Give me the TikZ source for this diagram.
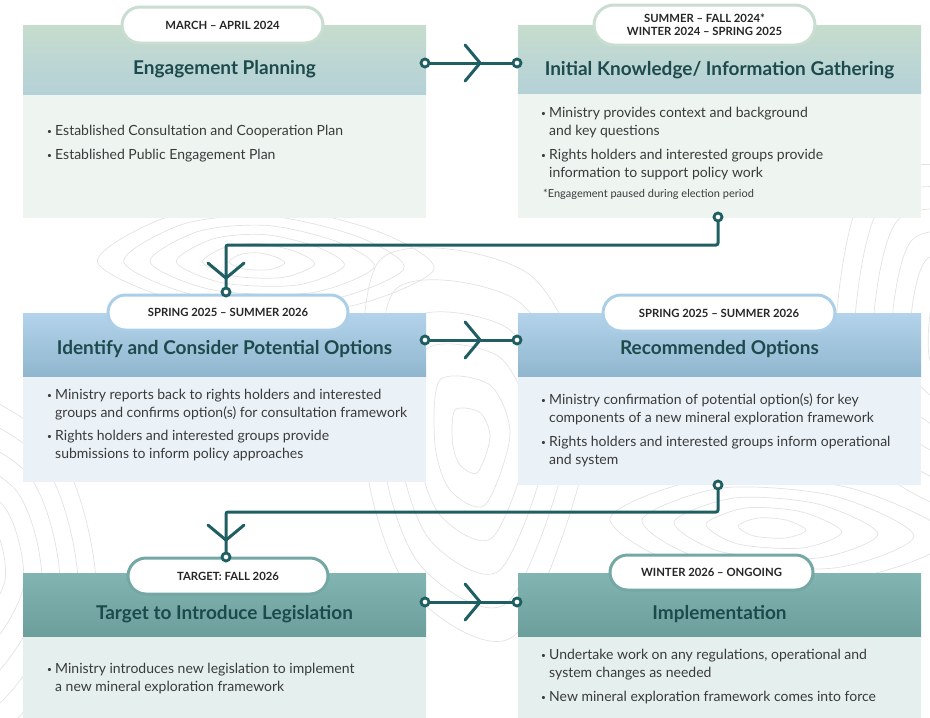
\documentclass[tikz,border=0pt]{standalone}
\usepackage{fontspec}
\setmainfont{Lato}
\usetikzlibrary{positioning,arrows.meta,decorations.markings,shapes.misc}

\definecolor{flowteal}{HTML}{1F5F63}
\definecolor{titleteal}{HTML}{1D4A4C}
\definecolor{bodygray}{HTML}{3A3A3A}
\definecolor{contourgray}{HTML}{E2E2E2}
% row colours
\definecolor{sagetop}{HTML}{C6DCCD}
\definecolor{sagebot}{HTML}{B4D1D8}
\definecolor{sagebody}{HTML}{EEF5F1}
\definecolor{sagerim}{HTML}{C9DDD1}
\definecolor{skytop}{HTML}{B3D3EB}
\definecolor{skybot}{HTML}{8FB6CD}
\definecolor{skybody}{HTML}{EAF2F8}
\definecolor{skyrim}{HTML}{ACCFE8}
\definecolor{tealtop}{HTML}{82B5B1}
\definecolor{tealbot}{HTML}{6C9F9C}
\definecolor{tealbody}{HTML}{E4EFEE}
\definecolor{tealrim}{HTML}{74A8A4}

\newcommand\bul{\makebox[8pt][l]{\raisebox{0.8pt}{\scalebox{0.6}{\textbullet}}}}
\newcommand\ind{\hspace*{8pt}}

\tikzset{
  header/.style={rectangle, inner sep=0pt, minimum width=403pt},
  bodybox/.style={rectangle, inner sep=0pt, minimum width=403pt},
  pill/.style={rounded rectangle, draw=#1, line width=3pt, fill=white,
    inner sep=0pt, align=center, text=black!85,
    font=\fontsize{11.3}{13.5}\selectfont\bfseries},
  title/.style={text=titleteal, inner sep=0pt,
    font=\fontsize{19}{22}\selectfont\bfseries},
  bodytext/.style={anchor=north west, inner sep=0pt, align=left, text=bodygray,
    font=\fontsize{14}{18}\selectfont},
  port/.style={circle, draw=flowteal, line width=2.8pt, fill=white,
    minimum size=8pt, inner sep=0pt},
  flow/.style={draw=flowteal, line width=3pt, line cap=round, rounded corners=2pt},
  chev/.style={postaction={decorate, decoration={markings,
    mark=at position #1 with {\arrow{Straight Barb[length=15pt,width=36pt,line width=3pt,round]}}}}},
  contour/.style={draw=contourgray, line width=0.7pt}
}

\begin{document}
\begin{tikzpicture}[x=1pt,y=-1pt]
  \useasboundingbox (0,0) rectangle (930,718);

  % topographic lines in the background
  \begin{scope}
    \clip (0,0) rectangle (930,718);
    \foreach \s in {0.35,0.7,...,2.2} {
      \draw[contour, shift={(255,262)}, scale=\s] plot[smooth cycle] coordinates
        {(-75,0) (-40,-22) (10,-26) (60,-14) (85,4) (40,22) (-30,20)};
    }
    \foreach \s in {0.5,1,...,3} {
      \draw[contour, shift={(470,440)}, scale=\s] plot[smooth cycle] coordinates
        {(-30,-60) (20,-55) (40,-5) (15,65) (-20,50) (-35,5)};
    }
    \foreach \s in {0.4,0.8,...,2.4} {
      \draw[contour, shift={(770,528)}, scale=\s] plot[smooth cycle] coordinates
        {(-80,-5) (-30,-25) (40,-20) (90,5) (40,25) (-40,20)};
    }
    \foreach \s in {1,1.4,...,3} {
      \draw[contour, shift={(-40,560)}, scale=\s] plot[smooth cycle] coordinates
        {(-30,-60) (30,-40) (45,20) (10,70) (-40,40)};
      \draw[contour, shift={(975,330)}, scale=\s] plot[smooth cycle] coordinates
        {(-35,-50) (25,-45) (40,10) (0,60) (-45,30)};
    }
  \end{scope}

  % row 1
  \node[header, minimum height=70pt, top color=sagetop, bottom color=sagebot] (hdr1) at (224.5,60) {};
  \node[bodybox, minimum height=123pt, fill=sagebody] (body1) at (224.5,156.5) {};
  \node[header, minimum height=69pt, top color=sagetop, bottom color=sagebot] (hdr2) at (719.5,59.5) {};
  \node[bodybox, minimum height=124pt, fill=sagebody] (body2) at (719.5,156) {};

  % row 2
  \node[header, minimum height=64pt, top color=skytop, bottom color=skybot] (hdr3) at (224.5,345) {};
  \node[bodybox, minimum height=105pt, fill=skybody] (body3) at (224.5,429.5) {};
  \node[header, minimum height=64pt, top color=skytop, bottom color=skybot] (hdr4) at (719.5,345) {};
  \node[bodybox, minimum height=108pt, fill=skybody] (body4) at (719.5,431) {};

  % row 3
  \node[header, minimum height=64pt, top color=tealtop, bottom color=tealbot] (hdr5) at (224.5,605) {};
  \node[bodybox, minimum height=81pt, fill=tealbody] (body5) at (224.5,677.5) {};
  \node[header, minimum height=64pt, top color=tealtop, bottom color=tealbot] (hdr6) at (719.5,605) {};
  \node[bodybox, minimum height=81pt, fill=tealbody] (body6) at (719.5,677.5) {};

  % date pills
  \node[pill=sagerim, minimum width=201pt, minimum height=36pt] (pill1) at (222.5,25) {MARCH -- APRIL 2024};
  \node[pill=sagerim, minimum width=221pt, minimum height=40pt] (pill2) at (704.5,25) {SUMMER -- FALL 2024*\\WINTER 2024 -- SPRING 2025};
  \node[pill=skyrim, minimum width=240pt, minimum height=35pt] (pill3) at (228,312.5) {SPRING 2025 -- SUMMER 2026};
  \node[pill=skyrim, minimum width=232pt, minimum height=36pt] (pill4) at (719,313) {SPRING 2025 -- SUMMER 2026};
  \node[pill=tealrim, minimum width=200pt, minimum height=36pt] (pill5) at (228,576) {TARGET: FALL 2026};
  \node[pill=tealrim, minimum width=203pt, minimum height=35pt] (pill6) at (711.5,572.5) {WINTER 2026 -- ONGOING};

  % titles
  \node[title] (ttl1) at (224.5,69) {Engagement Planning};
  \node[title] (ttl2) at (719.5,70) {Initial Knowledge/ Information Gathering};
  \node[title] (ttl3) at (224.5,349) {Identify and Consider Potential Options};
  \node[title] (ttl4) at (719.5,349) {Recommended Options};
  \node[title] (ttl5) at (224.5,614) {Target to Introduce Legislation};
  \node[title] (ttl6) at (719.5,614) {Implementation};

  % bullet texts
  \node[bodytext] (txt1) at (47,125) {\bul Established Consultation and Cooperation Plan\\[6pt]
    \bul Established Public Engagement Plan};
  \node[bodytext] (txt2) at (541,107) {\bul Ministry provides context and background\\
    \ind and key questions\\[6pt]
    \bul Rights holders and interested groups provide\\
    \ind information to support policy work};
  \node[bodytext, font=\fontsize{11}{13}\selectfont] (note2) at (543,189) {*Engagement paused during election period};
  \node[bodytext] (txt3) at (47,389) {\bul Ministry reports back to rights holders and interested\\
    \ind groups and confirms option(s) for consultation framework\\[5pt]
    \bul Rights holders and interested groups provide\\
    \ind submissions to inform policy approaches};
  \node[bodytext] (txt4) at (541,393) {\bul Ministry confirmation of potential option(s) for key\\
    \ind components of a new mineral exploration framework\\[6pt]
    \bul Rights holders and interested groups inform operational\\
    \ind and system};
  \node[bodytext] (txt5) at (47,663) {\bul Ministry introduces new legislation to implement\\
    \ind a new mineral exploration framework};
  \node[bodytext] (txt6) at (541,649) {\bul Undertake work on any regulations, operational and\\
    \ind system changes as needed\\[6pt]
    \bul New mineral exploration framework comes into force};

  % connectors
  \node[port] (p1a) at (425,63) {};
  \node[port] (p1b) at (517,63) {};
  \draw[flow, chev=-30pt] (p1a) -- (p1b);

  \node[port] (p2a) at (718,217) {};
  \node[port] (p2b) at (226,292) {};
  \coordinate (k2) at (470,245);
  \draw[flow, chev=-7pt] (p2a) |- (k2) -| (p2b);

  \node[port] (p3a) at (425,340) {};
  \node[port] (p3b) at (517,340) {};
  \draw[flow, chev=-30pt] (p3a) -- (p3b);

  \node[port] (p4a) at (718,485) {};
  \node[port] (p4b) at (226,557) {};
  \coordinate (k4) at (470,512);
  \draw[flow, chev=-10pt] (p4a) |- (k4) -| (p4b);

  \node[port] (p5a) at (425,602) {};
  \node[port] (p5b) at (517,602) {};
  \draw[flow, chev=-30pt] (p5a) -- (p5b);
\end{tikzpicture}
\end{document}
